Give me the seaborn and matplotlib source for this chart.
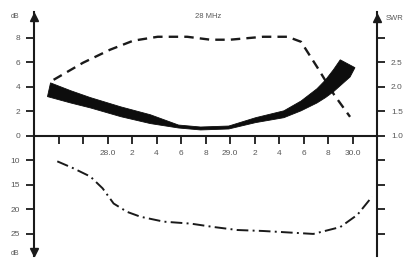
import matplotlib
matplotlib.use('Agg')
import matplotlib.pyplot as plt
import seaborn as sns

# forward gain (dB), dashed curve, upper scale
gain_mhz = [27.56, 27.80, 28.02, 28.21, 28.41, 28.65, 28.84, 29.00, 29.27, 29.47, 29.58, 29.71, 29.85, 29.98]
gain_db = [4.57, 5.96, 7.02, 7.76, 8.08, 8.08, 7.84, 7.84, 8.08, 8.08, 7.67, 5.63, 3.35, 1.55]

# front-to-back (dB), dash-dot curve, lower scale
fb_mhz = [27.59, 27.72, 27.86, 27.96, 28.05, 28.16, 28.27, 28.46, 28.68, 28.87, 29.06,
          29.27, 29.41, 29.68, 29.90, 30.04, 30.16]
fb_db = [10.2, 11.6, 13.3, 15.7, 18.8, 20.5, 21.5, 22.5, 22.9, 23.6, 24.2,
         24.4, 24.6, 25.0, 23.6, 21.1, 17.4]

# SWR band, upper and lower edge
swr_top_mhz = [27.535, 27.70, 27.86, 28.11, 28.35, 28.58, 28.76, 28.99, 29.21, 29.44, 29.58,
               29.71, 29.78, 29.845, 29.90, 30.02]
swr_top = [2.08, 1.92, 1.78, 1.59, 1.43, 1.22, 1.18, 1.20, 1.37, 1.51, 1.71,
           1.96, 2.14, 2.35, 2.55, 2.39]
swr_bot_mhz = [27.51, 27.70, 27.86, 28.11, 28.35, 28.58, 28.76, 28.99, 29.21, 29.44, 29.58,
               29.71, 29.78, 29.845, 29.98]
swr_bot = [1.80, 1.67, 1.57, 1.39, 1.25, 1.16, 1.12, 1.14, 1.27, 1.37, 1.51,
           1.67, 1.78, 1.90, 2.20]

x_ticks = [27.6, 27.8, 28.0, 28.2, 28.4, 28.6, 28.8, 29.0, 29.2, 29.4, 29.6, 29.8, 30.0]
x_labels = ['', '', '28.0', '2', '4', '6', '8', '29.0', '2', '4', '6', '8', '30.0']
db_ticks = [-8, -6, -4, -2, 0, 2, 4, 6, 8]
db_labels = ['25', '20', '15', '10', '0', '2', '4', '6', '8']
swr_ticks = [-1.0, -0.5, 0.0, 0.5, 1.0, 1.5, 2.0, 2.5, 3.0]
swr_labels = ['', '', '', '', '1.0', '1.5', '2.0', '2.5', '']

sns.set_theme(style='white')
plt.rcParams['font.family'] = ['Liberation Sans', 'DejaVu Sans']

ink = '#1a1a1a'
txt = '#585858'

fig = plt.figure(figsize=(4.07, 2.61), dpi=100)
ax = fig.add_axes([34 / 407, 5 / 261, 343 / 407, 244 / 261])
ax.set_xlim(27.4, 30.2)
ax.set_ylim(-9.8, 10.1)

# second scale for the SWR band, third for front-to-back
ax_swr = ax.twinx()
ax_swr.set_ylim(1 + -9.8 / 4, 1 + 10.1 / 4)
ax_fb = ax.twinx()
ax_fb.set_ylim(5 + 2.5 * 9.8, 5 - 2.5 * 10.1)
ax_fb.axis('off')

sns.lineplot(x=gain_mhz, y=gain_db, ax=ax, color=ink, lw=1.7, linestyle=(0, (4, 2.6)))
sns.lineplot(x=fb_mhz, y=fb_db, ax=ax_fb, color=ink, lw=1.4, linestyle=(0, (6, 2.2, 1, 2.2)))
ax_swr.fill(swr_top_mhz + swr_bot_mhz[::-1], swr_top + swr_bot[::-1], color='#0d0d0d', lw=0.6)

# axes: left dB scale, baseline at 0, right SWR scale
for s in ['top', 'right']:
    ax.spines[s].set_visible(False)
ax.spines['bottom'].set_position(('data', 0))
for s in ['top', 'left', 'bottom']:
    ax_swr.spines[s].set_visible(False)
for sp in [ax.spines['left'], ax.spines['bottom'], ax_swr.spines['right']]:
    sp.set_color(ink)
    sp.set_linewidth(1.5)

ax.set_xticks(x_ticks)
ax.set_xticklabels(x_labels)
ax.xaxis.get_major_ticks()[-1].tick1line.set_visible(False)
ax.set_yticks(db_ticks)
ax.set_yticklabels(db_labels)
ax.tick_params(axis='x', direction='out', length=6, width=1.3, color=ink,
               pad=4, labelsize=6, labelcolor=txt, bottom=True)
ax.tick_params(axis='y', direction='out', length=6, width=1.3, color=ink,
               pad=4, labelsize=6, labelcolor=txt, left=True)
ax_swr.set_yticks(swr_ticks)
ax_swr.set_yticklabels(swr_labels)
ax_swr.tick_params(axis='y', direction='out', length=6, width=1.3, color=ink,
                   pad=4, labelsize=6, labelcolor=txt, right=True)
ax.grid(False)
ax_swr.grid(False)

# arrow heads on the vertical scales
ax.plot([0], [9.7], marker='^', ms=6, color=ink, transform=ax.get_yaxis_transform(), clip_on=False)
ax.plot([0], [-9.5], marker='v', ms=6, color=ink, transform=ax.get_yaxis_transform(), clip_on=False)
ax.plot([1], [9.6], marker='^', ms=6, color=ink, transform=ax.get_yaxis_transform(), clip_on=False)

ax.text(-0.055, 9.7, 'dB', transform=ax.get_yaxis_transform(), fontsize=5, color=txt,
        ha='center', va='center')
ax.text(-0.055, -9.6, 'dB', transform=ax.get_yaxis_transform(), fontsize=5, color=txt,
        ha='center', va='center')
ax.text(1.025, 9.6, 'SWR', transform=ax.get_yaxis_transform(), fontsize=5.5, color=txt,
        ha='left', va='center')
ax.text(28.82, 9.7, '28 MHz', fontsize=5.5, color=txt, ha='center', va='center')

fig.savefig('out.png', dpi=100)
